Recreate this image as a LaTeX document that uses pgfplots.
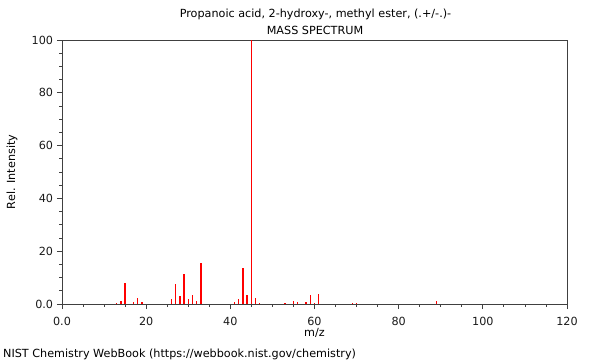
\documentclass[border=0pt]{standalone}
\usepackage{fontspec}
\setmainfont{DejaVu Sans}
\usepackage{pgfplots}
\pgfplotsset{compat=1.18}
\newcommand{\fs}{\fontsize{11.2pt}{13pt}\selectfont}
\begin{document}
\fs
\begin{tikzpicture}[x=1pt,y=1pt]
\useasboundingbox (0,0) rectangle (600,360);
\begin{axis}[
  at={(62pt,56pt)}, anchor=south west,
  scale only axis, width=505pt, height=264pt,
  xmin=0, xmax=120, ymin=0, ymax=100,
  xtick={0,20,...,120}, xticklabels={0.0,20,40,60,80,100,120},
  ytick={0,20,...,100}, yticklabels={0.0,20,40,60,80,100},
  minor tick num=3,
  tick align=outside, xtick pos=bottom, ytick pos=left,
  major tick length=5pt, minor tick length=2.5pt,
  axis line style={black!75, line width=0.8pt},
  every tick/.style={black!75, line width=0.8pt},
  /pgf/number format/assume math mode=true,
  tick label style={font=\fs, text=black!90},
  xticklabel style={yshift=-4pt},
  xlabel={m/z},
  xlabel style={at={(axis description cs:0.5,0)}, anchor=center, yshift=-29pt, font=\fs},
  ylabel={Rel. Intensity},
  ylabel style={at={(axis description cs:-0.099,0.5)}, anchor=center, font=\fs},
  clip=false,
]
\addplot[ycomb, color=red, line width=1.4pt, mark=none] coordinates {
(13,0.3) (14,1.0) (15,8.1) (17,0.8) (18,2.3) (19,0.8)
(26,1.8) (27,7.6) (28,3.0) (29,11.4) (30,1.8) (31,3.4) (32,1.2) (33,15.4)
(41,0.8) (42,1.8) (43,13.6) (44,3.4) (45,100) (46,2.4) (47,0.3)
(53,0.2) (55,1.3) (56,0.6) (58,0.6) (59,3.3) (60,0.3) (61,3.6)
(69,0.2) (70,0.2) (89,1.3)
};
\node[anchor=base, font=\fs] at (axis description cs:0.5,1) [yshift=22.5pt, xshift=1pt] {Propanoic acid, 2-hydroxy-, methyl ester, (.+/-.)-};
\node[anchor=base, font=\fs] at (axis description cs:0.5,1) [yshift=6pt, xshift=0.5pt] {MASS SPECTRUM};
\end{axis}
\node[anchor=base west, inner sep=0pt, font=\fs] at (3,3) {NIST Chemistry WebBook (https://webbook.nist.gov/chemistry)};
\end{tikzpicture}
\end{document}
